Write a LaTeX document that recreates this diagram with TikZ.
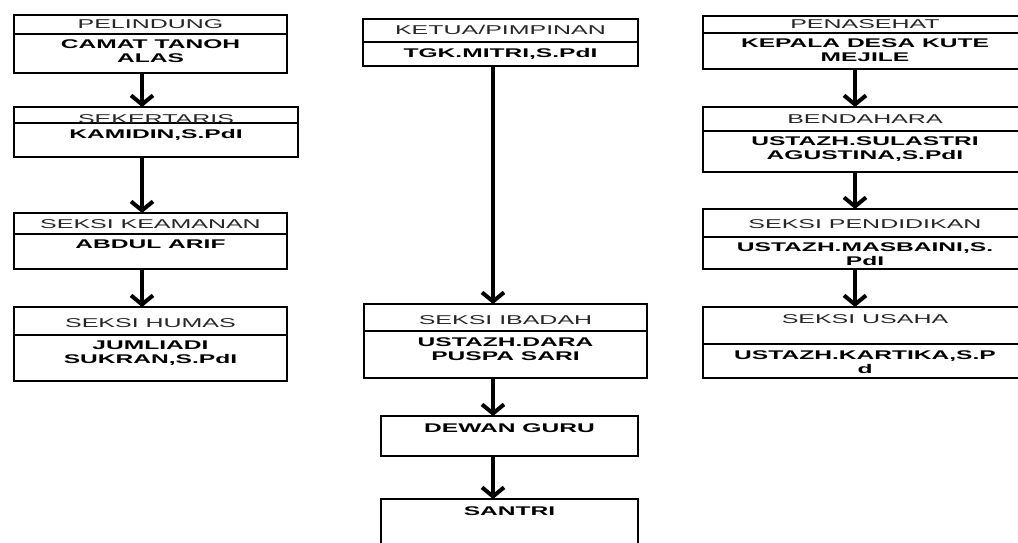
\documentclass[tikz,border=0pt]{standalone}
\usepackage{fontspec}
\setmainfont{Liberation Sans}[FakeStretch=1.95]
\usetikzlibrary{positioning,arrows.meta}

\tikzset{
  kotak/.style={draw, line width=2pt, inner sep=0pt, outer sep=0pt, anchor=north west},
  judul/.style={inner sep=0pt, text=black!85, text height=9pt, text depth=0pt, font=\fontsize{12.8}{14}\selectfont},
  nama/.style={inner sep=0pt, align=center, font=\fontsize{12.6}{14}\selectfont\bfseries},
  bingkai/.style={line width=2.8pt},
  panah/.style={line width=4pt, -{Straight Barb[length=9pt,width=22pt]}}
}

\begin{document}
\begin{tikzpicture}[x=1pt,y=1pt]
\clip (0,0) rectangle (1018,-543);
\fill[white] (0,0) rectangle (1018,-543);
\coordinate (jalur-kiri) at (142,0);
\coordinate (jalur-tengah) at (493,0);
\coordinate (jalur-kanan) at (855,0);
\foreach \n/\x/\y/\w/\ha/\hb/\g/\jd/\nm in {%
  pel/14/15/273/19/39/0/PELINDUNG/{CAMAT TANOH\\ALAS},
  sek/14/107/284/16/34/-3.5/SEKERTARIS/{KAMIDIN,S.PdI},
  kea/14/213/273/21/35/0/SEKSI KEAMANAN/{ABDUL ARIF},
  hum/14/307/273/28/46/-2/SEKSI HUMAS/{JUMLIADI\\SUKRAN,S.PdI},
  ket/363/19/275/23/24/0/{KETUA/PIMPINAN}/{TGK.MITRI,S.PdI},
  iba/364/304/283/27/47/-2/SEKSI IBADAH/{USTAZH.DARA\\PUSPA SARI},
  pen/703/16/324/17/36/0/PENASEHAT/{KEPALA DESA KUTE\\MEJILE},
  ben/703/107/324/24/41/0/BENDAHARA/{USTAZH.SULASTRI\\AGUSTINA,S.PdI},
  pdk/703/209/324/28/32/-1/SEKSI PENDIDIKAN/{USTAZH.MASBAINI,S.\\PdI},
  usa/703/307/324/37/34/7/SEKSI USAHA/{USTAZH.KARTIKA,S.P\\d}} {
  \node[kotak, minimum width=\w pt, minimum height=\ha pt] (\n) at (\x,-\y) {};
  \node[kotak, minimum width=\w pt, minimum height=\hb pt, below=0pt of \n] (\n-isi) {};
  \node[judul, yshift=\g pt] (\n-judul) at (\n) {\jd};
  \node[nama, below=6pt of \n.south] (\n-nama) {\nm};
  \draw[bingkai] (\n.north west) rectangle (\n-isi.south east);
}
\node[kotak, minimum width=257pt, minimum height=40pt] (dew) at (381,-416) {};
\node[nama, below=7pt of dew.north] (dew-nama) {DEWAN GURU};
\draw[bingkai] (dew.north west) rectangle (dew.south east);
\node[kotak, minimum width=257pt, minimum height=60pt] (san) at (381,-499) {};
\node[nama, below=7pt of san.north] (san-nama) {SANTRI};
\draw[bingkai] (san.north west) rectangle (san.south east);
\foreach \a/\b/\j in {pel-isi/sek/kiri, sek-isi/kea/kiri, kea-isi/hum/kiri,
  ket-isi/iba/tengah, iba-isi/dew/tengah, dew/san/tengah,
  pen-isi/ben/kanan, ben-isi/pdk/kanan, pdk-isi/usa/kanan}
  \draw[panah] (\a.south -| jalur-\j) -- (\b.north -| jalur-\j);
\end{tikzpicture}
\end{document}
